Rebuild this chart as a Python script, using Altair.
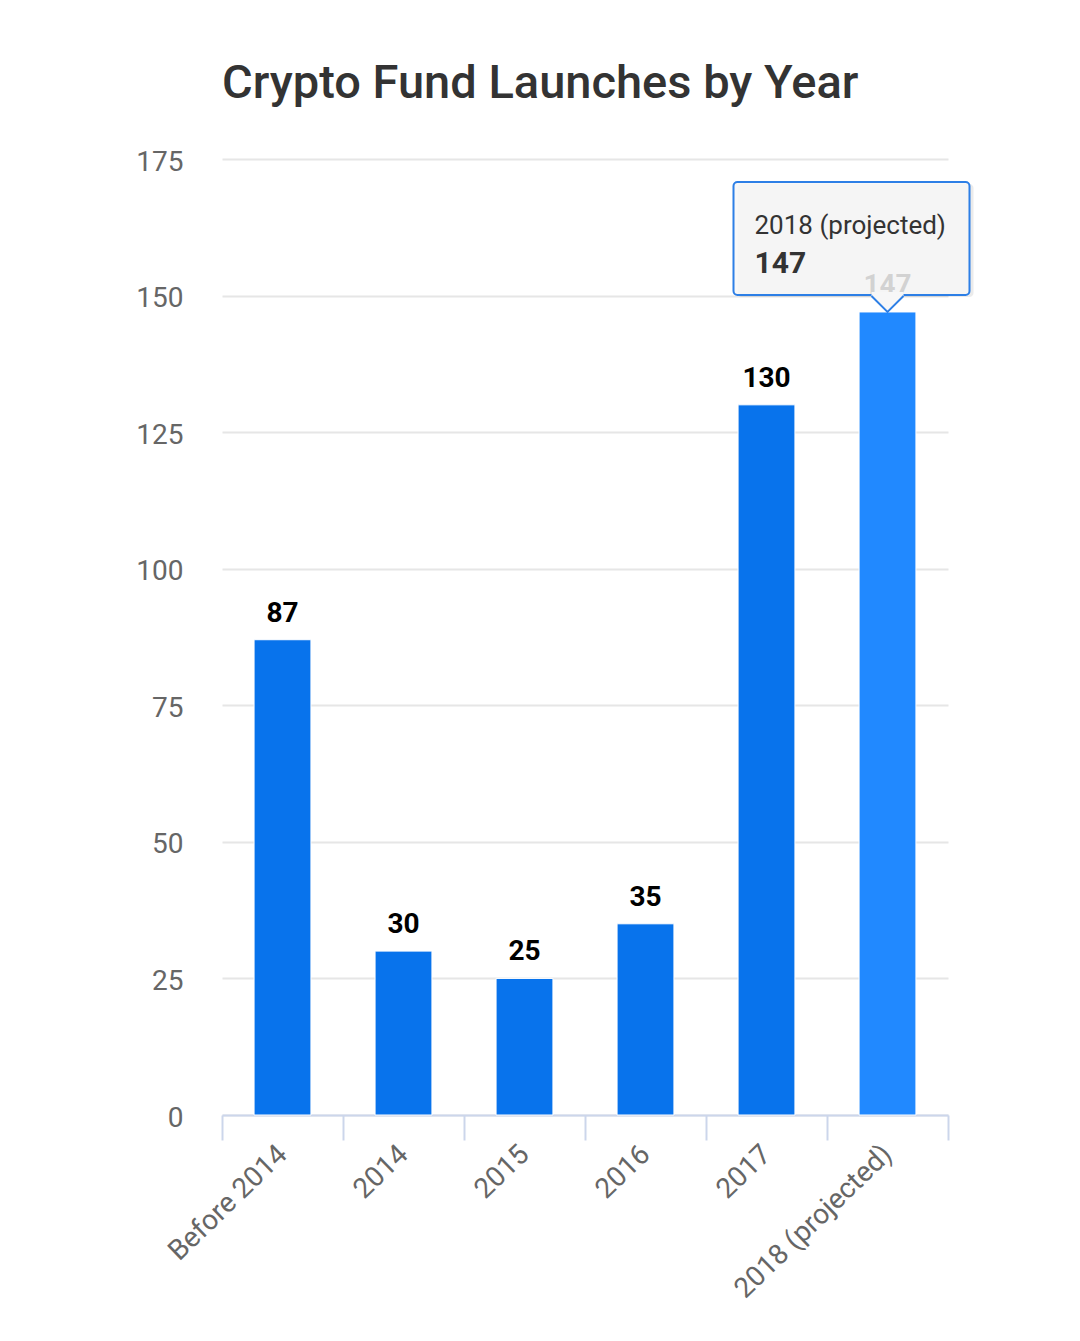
import altair as alt
import pandas as pd

categories = ["Before 2014", "2014", "2015", "2016", "2017", "2018 (projected)"]
values = [87, 30, 25, 35, 130, 147]
y_ticks = [0, 25, 50, 75, 100, 125, 150, 175]
highlight = "2018 (projected)"

df = pd.DataFrame({"category": categories, "value": values})
FONT = "Roboto"

base = alt.Chart(df)

x_enc = alt.X(
    "category:N",
    sort=categories,
    scale=alt.Scale(paddingInner=0, paddingOuter=0),
    axis=alt.Axis(
        title=None,
        labelAngle=316,
        labelAlign="right",
        labelBaseline="middle",
        labelFontSize=28,
        labelColor="#666666",
        labelFont=FONT,
        labelPadding=10,
        labelLimit=0,
        tickBand="extent",
        tickSize=25,
        tickColor="#ccd6eb",
        tickWidth=2,
        domainColor="#ccd6eb",
        domainWidth=2,
        grid=False,
    ),
)
y_enc = alt.Y(
    "value:Q",
    scale=alt.Scale(domain=[0, 175], nice=False),
    axis=alt.Axis(
        title=None,
        values=y_ticks,
        labelFontSize=28,
        labelColor="#666666",
        labelFont=FONT,
        labelPadding=39,
        labelOffset=3,
        ticks=False,
        domain=False,
        gridColor="#e6e6e6",
        gridWidth=2,
    ),
)

bars = base.mark_bar(width=alt.RelativeBandSize(0.47), stroke="white", strokeWidth=1).encode(
    x=x_enc,
    y=y_enc,
    color=alt.condition(
        alt.datum.category == highlight, alt.value("#2189ff"), alt.value("#0873ec")
    ),
)

labels = base.mark_text(
    font=FONT, fontSize=28, fontWeight="bold", color="#000000",
    baseline="alphabetic", dy=-18,
).encode(x=alt.X("category:N", sort=categories), y="value:Q", text="value:Q")

tip = base.transform_filter(alt.datum.category == highlight)

shadow = tip.mark_bar(
    width=236, cornerRadius=4, color="#000000", opacity=0.08,
    xOffset=-32, yOffset=-15, y2Offset=-128,
).encode(x=alt.X("category:N", sort=categories), y="value:Q", y2="value:Q")

box = tip.mark_bar(
    width=236, cornerRadius=4, fill="#f7f7f7", fillOpacity=0.85,
    stroke="#2d7fe6", strokeWidth=2,
    xOffset=-36, yOffset=-17, y2Offset=-130,
).encode(x=alt.X("category:N", sort=categories), y="value:Q", y2="value:Q")

pointer_fill = tip.mark_point(
    shape="M-1,-1.25L1,-1.25L1,-1L0,0L-1,-1Z", size=1024, filled=True,
    fill="#f7f7f7", opacity=1, strokeWidth=0,
).encode(x=alt.X("category:N", sort=categories), y="value:Q")

pointer_line = tip.mark_point(
    shape="M-1,-1L0,0L1,-1", size=1024, filled=False,
    stroke="#2d7fe6", strokeWidth=2, opacity=1,
).encode(x=alt.X("category:N", sort=categories), y="value:Q")

tip_cat = tip.mark_text(
    font=FONT, fontSize=26, color="#333333", align="left",
    baseline="alphabetic", dx=-133, dy=-78,
).encode(x=alt.X("category:N", sort=categories), y="value:Q", text="category:N")

tip_val = tip.mark_text(
    font=FONT, fontSize=30, fontWeight="bold", color="#333333", align="left",
    baseline="alphabetic", dx=-133, dy=-39,
).encode(x=alt.X("category:N", sort=categories), y="value:Q", text="value:Q")

chart = (
    alt.layer(bars, labels, shadow, box, pointer_fill, pointer_line, tip_cat, tip_val)
    .properties(
        width=726,
        height=956,
        autosize=alt.AutoSizeParams(type="none"),
        padding={"left": 214, "top": 151, "right": 124, "bottom": 205},
        title=alt.TitleParams(
            "Crypto Fund Launches by Year",
            anchor="start",
            frame="group",
            font=FONT,
            fontSize=47,
            fontWeight=500,
            color="#333333",
            baseline="alphabetic",
            offset=3,
        ),
    )
    .configure_view(stroke=None)
)

chart.save("out.html", embed_options={"renderer": "svg", "actions": False})
